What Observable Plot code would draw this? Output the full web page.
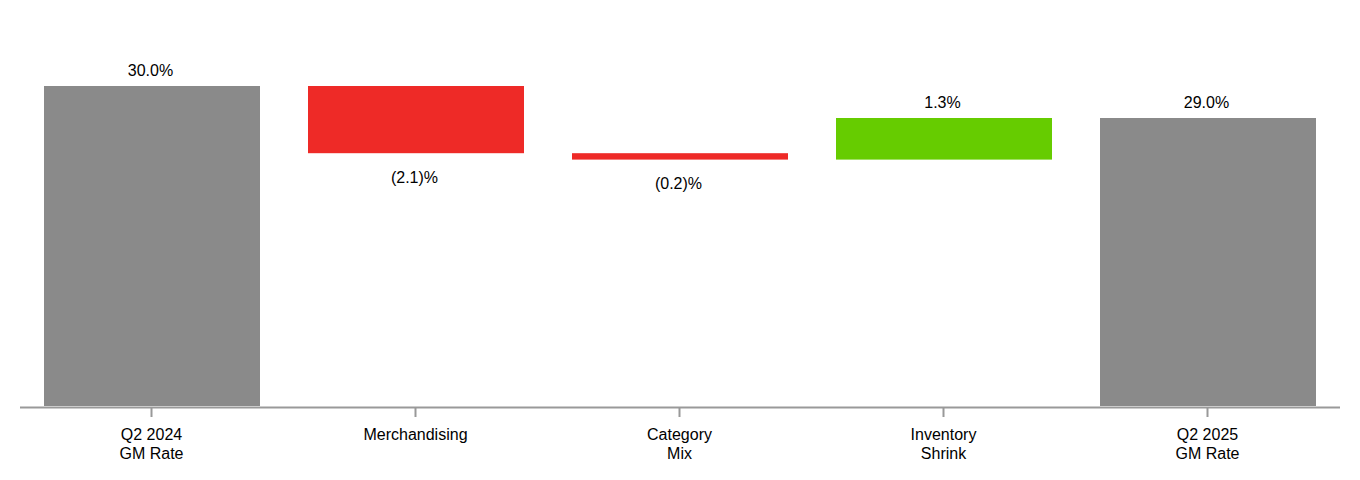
<!DOCTYPE html>
<html>
<head>
<meta charset="utf-8">
<script src="https://cdn.jsdelivr.net/npm/d3@7"></script>
<script src="https://cdn.jsdelivr.net/npm/@observablehq/plot@0.6"></script>
<style>
  html, body { margin: 0; padding: 0; background: #fff; }
  #chart { width: 1360px; height: 480px; }
</style>
</head>
<body>
<div id="chart"></div>
<script>
const categories = ["Q2 2024\nGM Rate", "Merchandising", "Category\nMix", "Inventory\nShrink", "Q2 2025\nGM Rate"];
const values = [30.0, -2.1, -0.2, 1.3, 29.0];
const kinds = ["total", "delta", "delta", "delta", "total"];
const labels = ["30.0%", "(2.1)%", "(0.2)%", "1.3%", "29.0%"];

const yBase = 20;
let running = 0;
const rows = categories.map((c, i) => {
  let y1, y2, type;
  if (kinds[i] === "total") {
    y1 = yBase; y2 = values[i]; running = values[i]; type = "total";
  } else {
    y1 = running; y2 = running + values[i]; running = y2;
    type = values[i] < 0 ? "decrease" : "increase";
  }
  return {cat: c, y1, y2, type, label: labels[i], top: Math.max(y1, y2), bottom: Math.min(y1, y2)};
});

const chart = Plot.plot({
  width: 1360,
  height: 480,
  marginLeft: 20,
  marginRight: 20,
  marginTop: 22,
  marginBottom: 74,
  style: {fontFamily: "'Liberation Sans', Arial, sans-serif", fontSize: "16px", color: "#000", background: "#fff"},
  x: {domain: categories, paddingInner: 0.18, paddingOuter: 0.09, label: null},
  y: {domain: [yBase, 32], axis: null},
  color: {domain: ["total", "decrease", "increase"], range: ["#8a8a8a", "#ee2a27", "#66cc00"]},
  marks: [
    Plot.barY(rows, {x: "cat", y1: "y1", y2: "y2", fill: "type"}),
    Plot.ruleY([yBase], {stroke: "#999", strokeWidth: 2, dy: 1}),
    Plot.axisX({tickSize: 10, tickPadding: 9, stroke: "#999", strokeWidth: 2, fill: "#000", fontSize: 16, lineHeight: 1.2, label: null, dy: 1, dx: -1}),
    Plot.text(rows.filter(d => d.type !== "decrease"), {x: "cat", y: "top", text: "label", dy: -16, dx: -2, fill: "#000", fontSize: 16}),
    Plot.text(rows.filter(d => d.type === "decrease"), {x: "cat", y: "bottom", text: "label", dy: 24, dx: -2, fill: "#000", fontSize: 16})
  ]
});
document.getElementById("chart").appendChild(chart);
</script>
</body>
</html>
